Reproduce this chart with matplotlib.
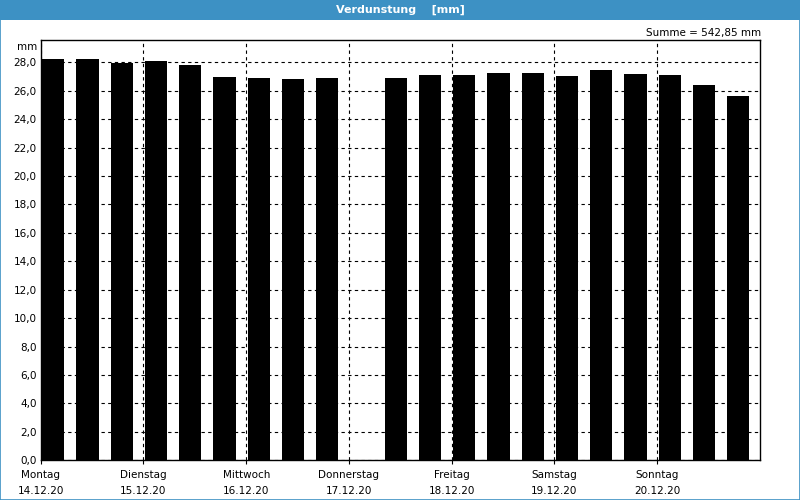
import numpy as np
import matplotlib.pyplot as plt
from matplotlib.patches import Rectangle

# evaporation per 8-hour slot, 14.12.20 - 20.12.20 (nan = no value)
days = ['Montag', 'Dienstag', 'Mittwoch', 'Donnerstag', 'Freitag', 'Samstag', 'Sonntag']
dates = ['14.12.20', '15.12.20', '16.12.20', '17.12.20', '18.12.20', '19.12.20', '20.12.20']
slot_hours = [0, 8, 16, 24, 32, 40, 48, 56, 64, 72, 80, 88, 96, 104, 112,
              120, 128, 136, 144, 152, 160]
values = [28.21, 28.21, 27.98, 28.07, 27.79, 27.00, 26.93, 26.81, 26.88, np.nan, 26.88,
          27.09, 27.09, 27.23, 27.23, 27.02, 27.44, 27.16, 27.09, 26.38, 25.61]
total = '542,85'
y_ticks = np.arange(0, 29, 2)

blue = '#3d91c4'

fig = plt.figure(figsize=(8, 5), dpi=100)
fig.patch.set_facecolor('white')

# title bar and frame
fig.patches.append(Rectangle((0, 0.96), 1, 0.04, transform=fig.transFigure,
                             facecolor=blue, edgecolor='none', zorder=0))
fig.patches.append(Rectangle((0.0006, 0.001), 0.9988, 0.998, transform=fig.transFigure,
                             facecolor='none', edgecolor=blue, linewidth=1.2, zorder=0))
fig.text(0.5, 0.98, 'Verdunstung    [mm]', color='white', fontweight='bold',
         fontsize=8, ha='center', va='center')

ax = fig.add_axes([0.0509, 0.0795, 0.8991, 0.8405])

x = np.array(slot_hours) + 0.35
ax.bar(x, values, width=5.15, align='edge', color='black', zorder=2)

ax.set_xlim(0, 168)
ax.set_ylim(0, 29.57)

ax.set_yticks(y_ticks)
ax.set_yticklabels([f'{v:.1f}'.replace('.', ',') for v in y_ticks], fontsize=7.5)
ax.tick_params(axis='y', length=0, pad=3)

ax.set_xticks(np.arange(0, 168, 24))
ax.set_xticklabels([f'{d}\n{t}' for d, t in zip(days, dates)], fontsize=7.5,
                   linespacing=1.75)
ax.tick_params(axis='x', length=3, width=0.8, pad=4)

ax.grid(True, color='black', linestyle=(0, (3, 3)), linewidth=0.8, zorder=1)

for s in ax.spines.values():
    s.set_linewidth(1)

ax.text(-0.005, 1.0 - 7 / 420, 'mm', transform=ax.transAxes, fontsize=7.5,
        ha='right', va='center')
fig.text(0.952, 0.934, f'Summe = {total} mm', fontsize=7.5, ha='right', va='center')

fig.savefig('out.png', dpi=100)
